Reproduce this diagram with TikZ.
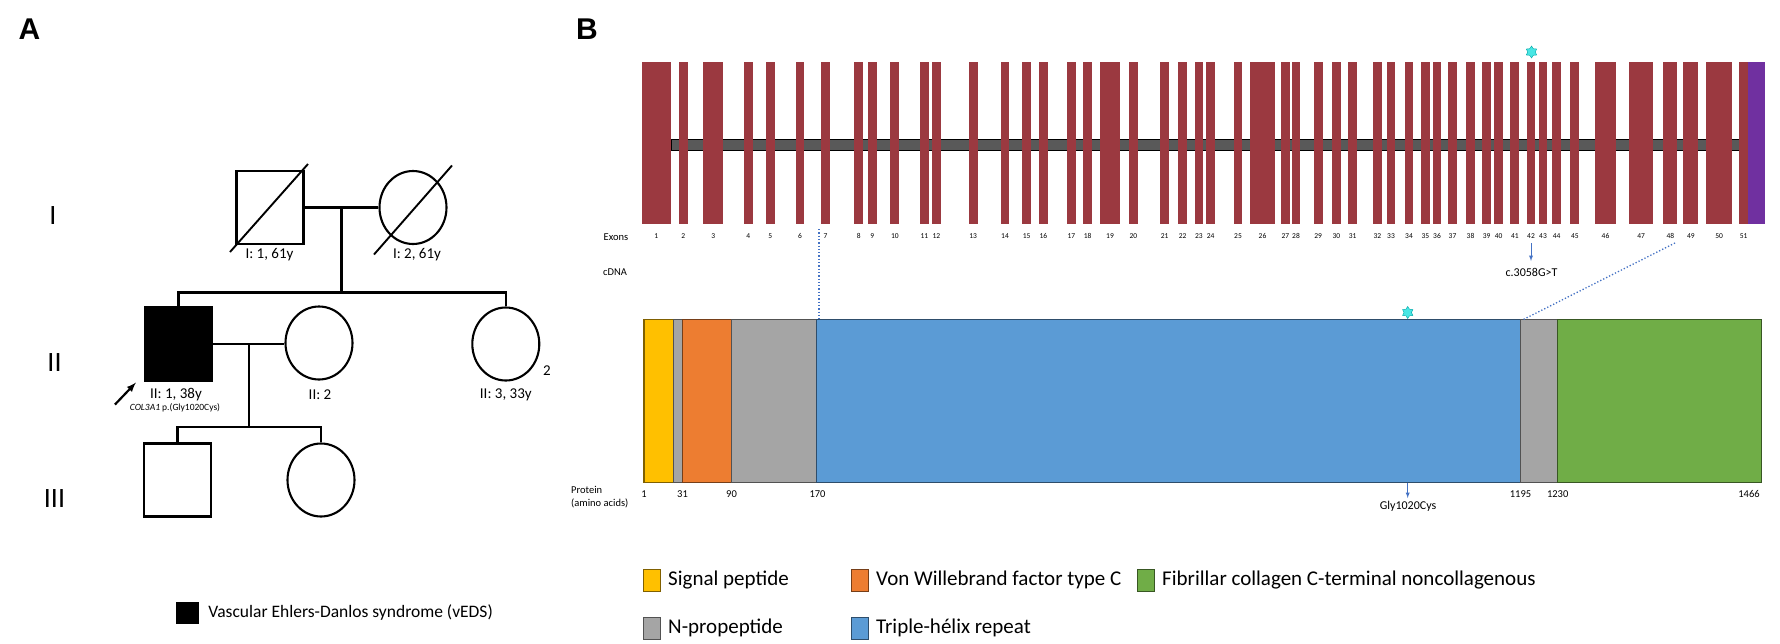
\documentclass[tikz,border=0pt]{standalone}
\usepackage{fontspec}
\setmainfont{Carlito}
\newfontfamily\headfont{Liberation Sans}
\usepackage{tikz}
\usetikzlibrary{calc}
\usetikzlibrary{arrows}
\usetikzlibrary{positioning}
\usetikzlibrary{shapes.geometric}
\definecolor{exon-red}{RGB}{155,57,64}
\definecolor{utr-purple}{RGB}{112,48,160}
\definecolor{intron-gray}{RGB}{89,89,89}
\definecolor{sig-yellow}{RGB}{255,192,0}
\definecolor{vwc-orange}{RGB}{237,125,49}
\definecolor{pro-gray}{RGB}{165,165,165}
\definecolor{helix-blue}{RGB}{91,155,213}
\definecolor{nc-green}{RGB}{112,173,71}
\definecolor{mut-blue}{RGB}{68,114,196}
\definecolor{star-cyan}{RGB}{72,230,228}

\begin{document}
\begin{tikzpicture}
  [
    x=1pt, y=-1pt,
    male/.style = {draw, line width=2.1pt, rectangle, minimum width=67pt, minimum height=73pt, inner sep=0pt},
    female/.style = {draw, line width=2.1pt, ellipse, minimum width=67pt, minimum height=73pt, inner sep=0pt},
    pedline/.style = {line width=2.1pt},
    deceased/.style = {line width=1.9pt},
    pedlabel/.style = {font=\fontsize{15}{17}\selectfont, inner sep=0pt},
    genlabel/.style = {font=\fontsize{28}{31}\selectfont, inner sep=0pt},
    panel/.style = {font=\headfont\bfseries\fontsize{30}{34}\selectfont, inner sep=0pt},
    exonnum/.style = {font=\fontsize{7.5}{8}\selectfont, inner sep=0pt},
    side/.style = {font=\fontsize{10.5}{13}\selectfont, inner sep=0pt},
    aanum/.style = {font=\fontsize{10.5}{12}\selectfont, inner sep=0pt},
    mutlabel/.style = {font=\fontsize{12}{14}\selectfont, inner sep=0pt},
    mutarrow/.style = {-latex, mut-blue, line width=0.9pt},
    mutstar/.style = {star, star points=6, star point ratio=1.6, minimum size=12pt, inner sep=0pt, fill=star-cyan, draw=teal!70!cyan, line width=0.4pt},
    zoomline/.style = {mut-blue, dotted, line width=1.3pt},
    legbox/.style = {minimum width=17pt, minimum height=22pt, inner sep=0pt, line width=1pt},
    legtext/.style = {font=\fontsize{21}{24}\selectfont, inner sep=0pt, anchor=west}
  ]
\useasboundingbox (0,0) rectangle (1780,643);

% Panel letters
\node[panel] (pa) at (29.5, 29) {A};
\node[panel] (pb) at (587, 29) {B};

% ---------------------------------------------------
% Pedigree
\node[genlabel] (g1) at (53, 216) {I};
\node[genlabel] (g2) at (54.5, 363) {II};
\node[genlabel] (g3) at (54.5, 499) {III};

% Generation I
\node[male]   (m1) at (270, 207.5) {};
\node[female] (f1) at (413, 207.5) {};
\draw[deceased] ($ (m1.center) + (-40, 44.5) $) -- ($ (m1.center) + (38, -43.5) $);
\draw[deceased] ($ (f1.center) + (-39, 47) $) -- ($ (f1.center) + (39, -42) $);
\node[pedlabel] (lm1) at (269.5, 255) {I: 1, 61y};
\node[pedlabel] (lf1) at (417, 255) {I: 2, 61y};

\coordinate[] (c1) at ($ (m1.east)!0.5!(f1.west) $);
\coordinate[] (c2) at ($ (c1) + (0, 85) $);
\draw[pedline] (m1.east) -- (f1.west);
\draw[pedline] (c1) -- (c2);

% Generation II
\node[male, fill=black] (s1) at (178.5, 344) {};
\node[female]           (s2) at (319, 343) {};
\node[female]           (s3) at (505.8, 344) {};
\draw[pedline] (s1.north) |- (c2) -| (s3.north);
\node[pedlabel] (ls1) at (176, 395) {II: 1, 38y};
\node[font=\fontsize{9.5}{10}\selectfont, inner sep=0pt] (gene) at (175, 407.5) {\textit{COL3A1} p.(Gly1020Cys)};
\node[pedlabel] (ls2) at (320, 395) {II: 2};
\node[pedlabel] (ls3) at (505.8, 395) {II: 3, 33y};
\node[pedlabel] (n3) at (547, 370.5) {2};
% Proband
\coordinate[] (pr0) at ($ (s1.south west) + (-29, 23) $);
\coordinate[] (pr1) at ($ (s1.south west) + (-8, 1) $);
\draw[-latex, line width=2.2pt] (pr0) -- (pr1);

\coordinate[] (c3) at ($ (s1.east)!0.5!(s1.east -| s2.west) $);
\coordinate[] (c4) at ($ (c3) + (0, 83) $);
\draw[pedline] (s1.east) -- (s1.east -| s2.west);
\draw[pedline] (c3) -- (c4);

% Generation III
\node[male]   (t1) at (177.5, 480) {};
\node[female] (t2) at (321, 480) {};
\draw[pedline] (t1.north) |- (c4) -| (t2.north);

% Legend
\node[fill=black, minimum width=23pt, minimum height=22pt, inner sep=0pt] (kv) at (187.5, 613) {};
\node[legtext, font=\fontsize{17.5}{20}\selectfont, right=9pt of kv] (tv) {Vascular Ehlers-Danlos syndrome (vEDS)};

% ---------------------------------------------------
% Gene: introns and exons
\fill[intron-gray, draw=black, line width=0.8pt] (671, 139.5) rectangle (1740, 150);
\foreach \n/\l/\r in {1/641.7/671.0, 2/679.0/687.7, 3/703.3/723.3, 4/744.0/752.7,
    5/766.0/774.7, 6/795.7/804.3, 7/821.0/830.0, 8/854.3/863.0, 9/868.0/876.7,
    10/890.3/899.3, 11/920.0/928.7, 12/932.0/940.7, 13/968.7/977.7, 14/1000.7/1009.3,
    15/1022.3/1031.0, 16/1039.0/1047.7, 17/1067.0/1075.7, 18/1083.3/1092.0,
    19/1099.7/1120.3, 20/1129.0/1137.7, 21/1160.3/1169.0, 22/1178.3/1187.0,
    23/1194.7/1203.0, 24/1206.3/1215.0, 25/1233.7/1242.3, 26/1250.0/1275.0,
    27/1281.0/1289.7, 28/1291.7/1300.3, 29/1313.7/1322.7, 30/1332.0/1340.7,
    31/1348.3/1357.0, 32/1373.0/1381.7, 33/1386.7/1395.3, 34/1404.7/1413.3,
    35/1421.0/1429.7, 36/1432.7/1441.3, 37/1448.0/1457.0, 38/1466.0/1475.0,
    39/1482.3/1491.0, 40/1494.3/1503.0, 41/1510.3/1519.3, 42/1526.7/1535.3,
    43/1538.7/1547.3, 44/1552.3/1561.0, 45/1570.3/1579.3, 46/1595.3/1615.7,
    47/1629.0/1653.3, 48/1663.3/1677.3, 49/1683.3/1698.3, 50/1706.3/1732.0,
    51/1739.3/1748.0}
  {
    \fill[exon-red] (\l, 62) rectangle (\r, 224);
    \node[exonnum] (x\n) at ({(\l+\r)/2}, 236) {\n};
  }
\fill[utr-purple] (1748, 62) rectangle (1765.3, 224);

\node[side] (exons) at (616, 237) {Exons};
\node[side] (cdna)  at (615, 272) {cDNA};

% Variant in exon 42
\node[mutstar] (st1) at (1531.5, 52) {};
\coordinate[] (v0) at (1531, 243);
\coordinate[] (v1) at (1531, 261);
\draw[mutarrow] (v0) -- (v1);
\node[mutlabel] (cvar) at (1531.5, 272) {c.3058G>T};

% ---------------------------------------------------
% Protein domains
\foreach \a/\b/\c in {644/673.3/sig-yellow, 673.3/682.5/pro-gray, 682.5/731.5/vwc-orange,
    731.5/816.4/pro-gray, 816.4/1520.5/helix-blue, 1520.5/1557.7/pro-gray, 1557.7/1761.6/nc-green}
  {
    \filldraw[fill=\c, draw=\c!50!black, line width=1.1pt] (\a, 319.5) rectangle (\b, 482.5);
  }
\foreach \v/\x in {1/644, 31/682.5, 90/731.5, 170/817.5, 1195/1520.5, 1230/1557.7, 1466/1749}
  {
    \node[aanum] (aa\v) at (\x, 494) {\v};
  }
\node[side, align=left, anchor=north west] (prot) at (571, 486.5) {Protein\\(amino acids)};

% Variant in protein
\node[mutstar] (st2) at (1407.7, 312.5) {};
\coordinate[] (p0) at (1407.7, 482.5);
\coordinate[] (p1) at (1407.7, 498);
\draw[mutarrow] (p0) -- (p1);
\node[mutlabel] (pvar) at (1408, 506.5) {Gly1020Cys};

% Zoom lines exon -> protein
\coordinate[] (z1) at (819, 229);
\coordinate[] (z2) at (819, 319.5);
\coordinate[] (z3) at (1675, 243);
\coordinate[] (z4) at (1523.3, 319.5);
\draw[zoomline] (z1) -- (z2);
\draw[zoomline] (z3) -- (z4);

% Legend of domains
\node[legbox, fill=sig-yellow, draw=sig-yellow!50!black] (ksig) at (652, 580) {};
\node[legtext, right=7pt of ksig] (tsig) {Signal peptide};
\node[legbox, fill=vwc-orange, draw=vwc-orange!50!black] (kvwc) at (860, 580) {};
\node[legtext, right=7pt of kvwc] (tvwc) {Von Willebrand factor type C};
\node[legbox, fill=nc-green, draw=nc-green!50!black] (knc) at (1146, 580) {};
\node[legtext, right=7pt of knc] (tnc) {Fibrillar collagen C-terminal noncollagenous};
\node[legbox, fill=pro-gray, draw=pro-gray!50!black] (kpro) at (652, 628) {};
\node[legtext, right=7pt of kpro] (tpro) {N-propeptide};
\node[legbox, fill=helix-blue, draw=helix-blue!50!black] (khel) at (860, 628) {};
\node[legtext, right=7pt of khel] (thel) {Triple-hélix repeat};
\end{tikzpicture}
\end{document}
